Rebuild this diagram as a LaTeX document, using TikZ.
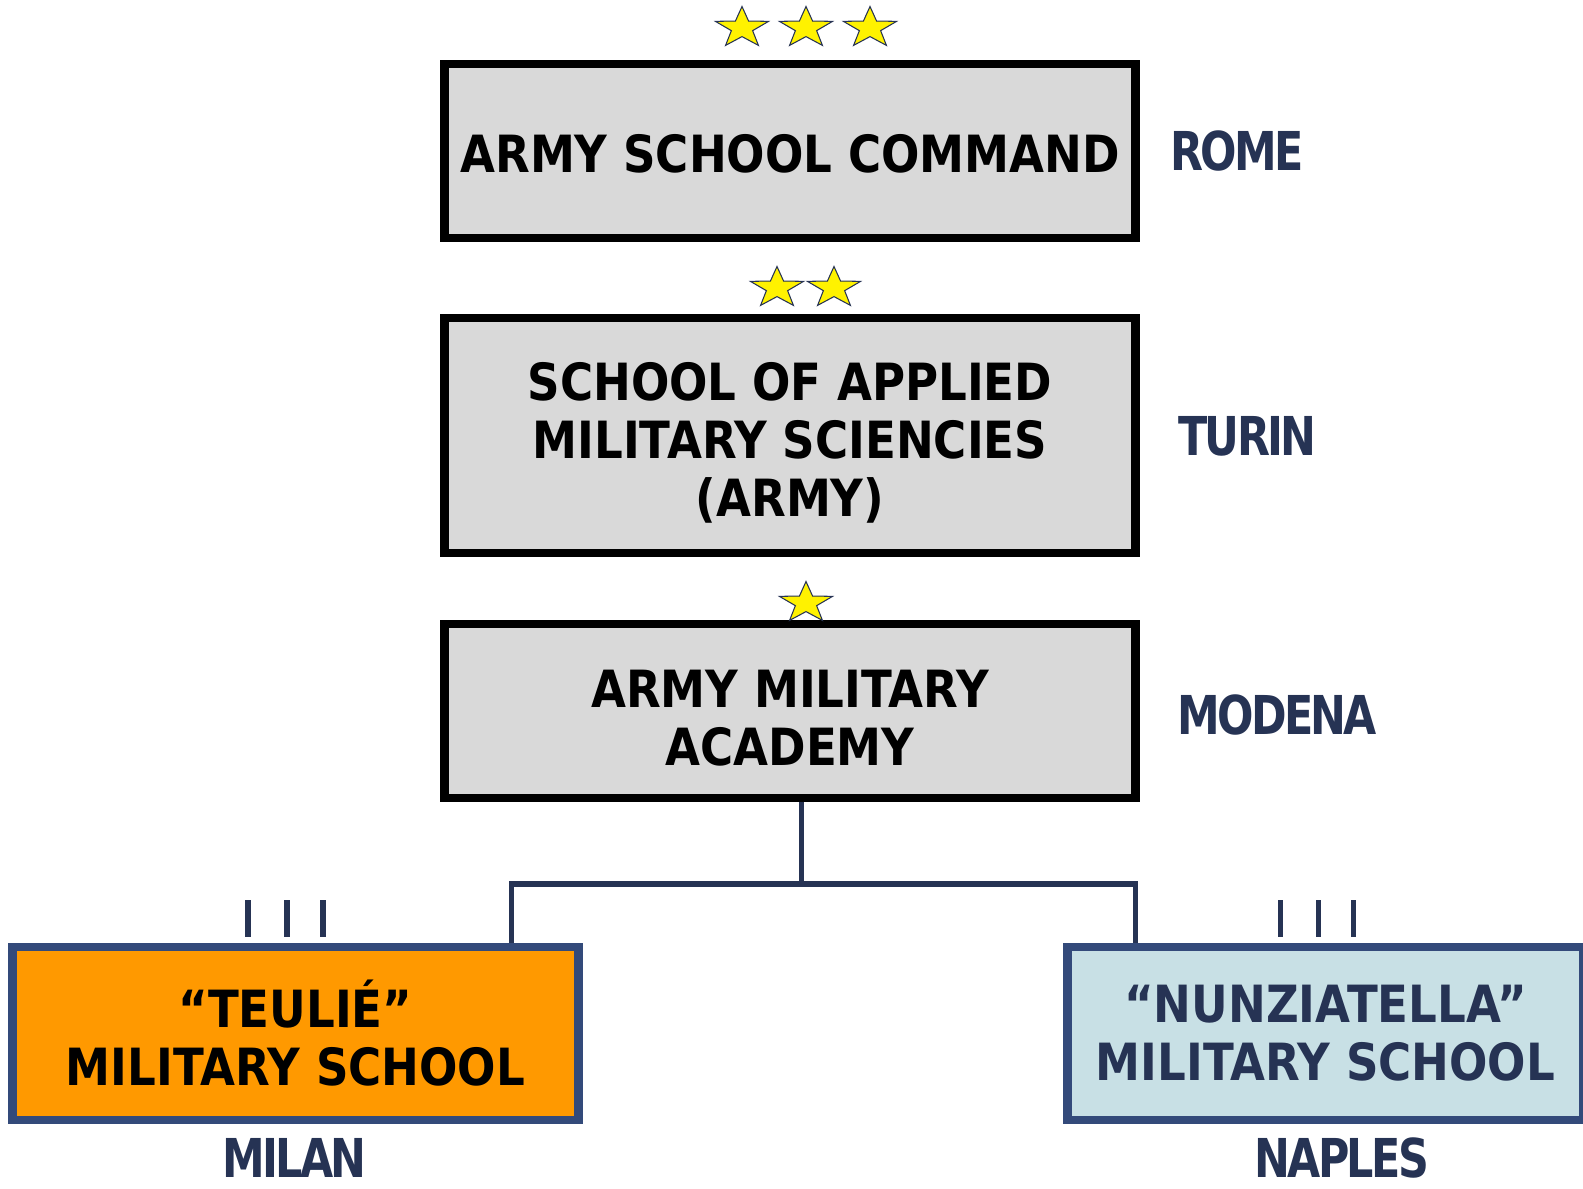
\documentclass[tikz,border=0pt]{standalone}
\usepackage{fontspec}
\setmainfont{DejaVu Sans}[FakeStretch=0.88]
\newfontfamily\cityfont{DejaVu Sans}[FakeStretch=0.8,LetterSpace=-5]
\usetikzlibrary{shapes.geometric}
\definecolor{navy}{HTML}{263354}
\definecolor{edgeblue}{HTML}{334A7A}
\definecolor{boxgray}{HTML}{D9D9D9}
\definecolor{orangefill}{HTML}{FF9900}
\definecolor{paleblue}{HTML}{C8E0E5}

\begin{document}
\begin{tikzpicture}[
          x=0.02cm, y=-0.02cm,
          unit/.style={draw=black,line width=4.8pt,fill=boxgray,minimum width=13.82cm,inner sep=0pt},
          school/.style={draw=edgeblue,line width=5pt,minimum height=3.46cm,inner sep=0pt},
          label/.style={align=center,font=\fontsize{29.2}{33}\selectfont\bfseries,inner sep=0pt},
          city/.style={anchor=west,text=navy,font=\fontsize{30.5}{33}\selectfont\cityfont\bfseries,inner sep=0pt},
          rank/.style={star,star points=5,star point ratio=2.5,minimum size=0.86cm,xscale=1.3,
            inner sep=0pt,fill=yellow,draw=navy,line width=0.6pt},
          bar/.style={navy,line width=2.85pt},
          conn/.style={navy,line width=2.85pt},
        ]

        \useasboundingbox (0,0) rectangle (1583,1189);

        \node[unit,minimum height=3.49cm] (command) at (790,151) {};
        \node[unit,minimum height=4.7cm] (turin) at (790,435.5) {};
        \node[unit,minimum height=3.48cm] (academy) at (790,711) {};
        \node[school,fill=orangefill,minimum width=11.32cm] (teulie) at (295.5,1033.5) {};
        \node[school,fill=paleblue,minimum width=10.32cm] (nunz) at (1325.5,1033.5) {};

        \node[label] (commandtext) at ([yshift=-1.7pt]command.center) {ARMY SCHOOL COMMAND};
        \node[label] (turintext) at ([yshift=-4pt]turin.center) {SCHOOL OF APPLIED\\MILITARY SCIENCIES\\(ARMY)};
        \node[label] (academytext) at ([yshift=-4pt]academy.center) {ARMY MILITARY\\ACADEMY};
        \node[label] (teulietext) at (teulie.center) {``TEULIÉ''\\MILITARY SCHOOL};
        \node[label,text=navy] (nunztext) at (nunz.center) {``NUNZIATELLA''\\MILITARY SCHOOL};

        \node[city] (rome) at (1170,151) {ROME};
        \node[city] (turincity) at (1178,436) {TURIN};
        \node[city] (modena) at (1177,715) {MODENA};
        \node[city] (milan) at (222,1158) {MILAN};
        \node[city] (naples) at (1254,1158) {NAPLES};

        % stars
        \foreach \x in {742,806,870} \node[rank] at (\x,28) {};
        \foreach \x in {777,834} \node[rank] at (\x,288) {};
        \node[rank] at (806,603) {};

        % bars
        \foreach \x in {248,287,323,1280,1318,1353} \draw[bar] (\x,900) -- (\x,937);

        \coordinate (j) at (801,884);
        \coordinate (jl) at (511,884);
        \coordinate (jr) at (1135,884);
        \draw[conn] (academy.south -| j) -- (j);
        \draw[conn] (jl |- teulie.north) -- (jl) -- (jr) -- (jr |- nunz.north);

      \end{tikzpicture}
\end{document}
